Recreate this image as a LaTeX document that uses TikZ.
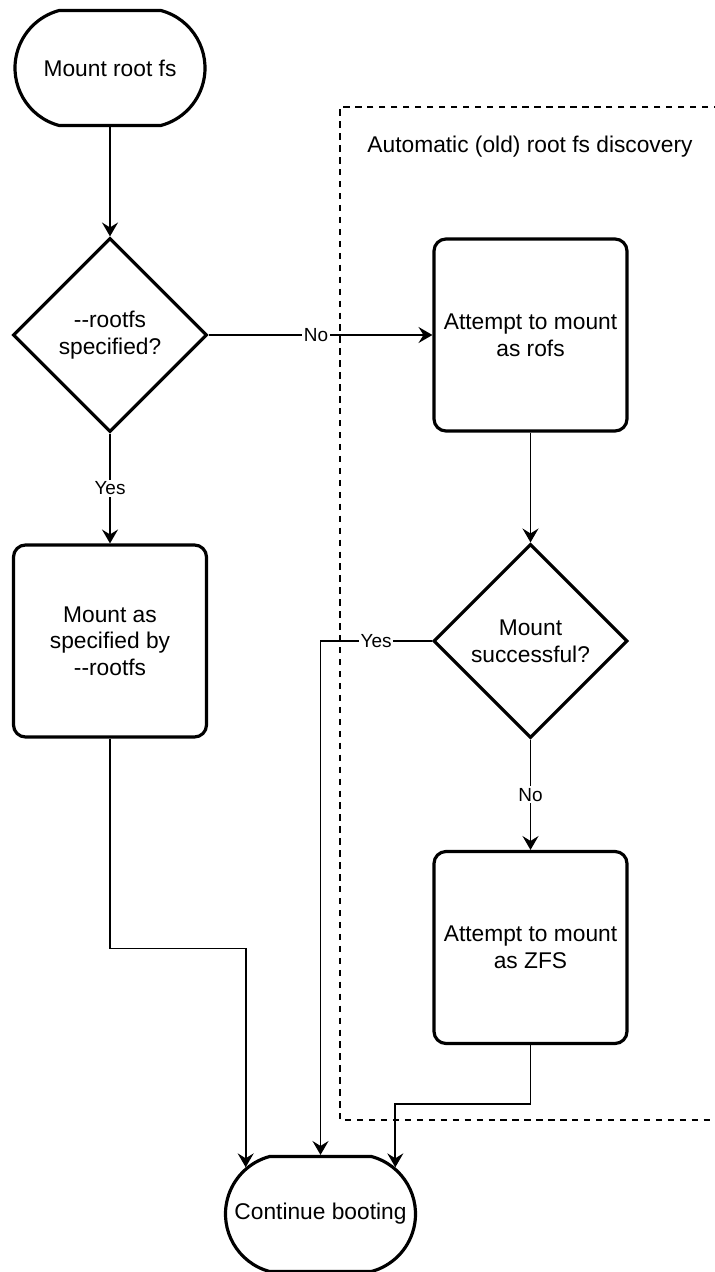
\documentclass[tikz,border=0pt]{standalone}
\usepackage{fontspec}
\setmainfont{Liberation Sans}
\usetikzlibrary{shapes.geometric,shapes.misc,arrows.meta}

\begin{document}
\begin{tikzpicture}[
    font=\fontsize{12.95}{15.2}\selectfont,
    terminal/.style={draw, line width=1.8pt, rounded rectangle, rounded rectangle arc length=150, minimum width=3.8cm, minimum height=2.3cm, inner sep=0pt},
    process/.style={draw, line width=1.8pt, rounded corners=0.24cm, minimum width=3.86cm, minimum height=3.84cm, align=center},
    decision/.style={draw, line width=1.8pt, diamond, aspect=1, minimum width=3.88cm, minimum height=3.88cm, inner sep=0pt, align=center},
    flow/.style={-{Stealth[length=7.9pt, width=9.1pt, inset=2.8pt]}, line width=1pt},
    choice/.style={fill=white, font=\fontsize{10.8}{13}\selectfont, inner sep=1pt}
]
    \useasboundingbox (0,0) rectangle (14.3,-25.44);

    % Dashed group on the right, open to the page edge
    \draw[line width=0.85pt, dash pattern=on 3.6pt off 3.2pt] (14.4,-2.14) -| (6.8,-22.4) -- (14.4,-22.4);
    \node (grplbl) at (10.6,-2.94) {Automatic (old) root fs discovery};

    % Left column
    \node[terminal] (mroot) at (2.2,-1.36) {Mount root fs};
    \node[decision] (qroot) at (2.2,-6.7) {\mbox{-}\mbox{-}rootfs\\specified?};
    \node[process] (mspec) at (2.2,-12.82) {Mount as\\specified by\\\mbox{-}\mbox{-}rootfs};

    % Right column
    \node[process] (trofs) at (10.61,-6.7) {Attempt to mount\\as rofs};
    \node[decision] (qok) at (10.61,-12.82) {Mount\\successful?};
    \node[process] (tzfs) at (10.61,-18.95) {Attempt to mount\\as ZFS};

    % End
    \node[terminal] (boot) at (6.41,-24.28) {Continue booting};

    % Connectors
    \draw[flow] (mroot) -- (qroot);
    \draw[flow] (qroot) -- node[choice, pos=0.48] {No} (trofs);
    \draw[flow] (qroot) -- node[choice] {Yes} (mspec);
    \draw[flow] (trofs) -- (qok);
    \draw[flow] (qok) -- node[choice] {No} (tzfs);
    \draw[flow] (qok) -| node[choice, pos=0.25] {Yes} (boot);
    \draw[flow] (mspec.south) -- ++(0,-4.2) -| (boot.148);
    \draw[flow] (tzfs.south) -- ++(0,-1.18) -| (boot.32);
\end{tikzpicture}
\end{document}
